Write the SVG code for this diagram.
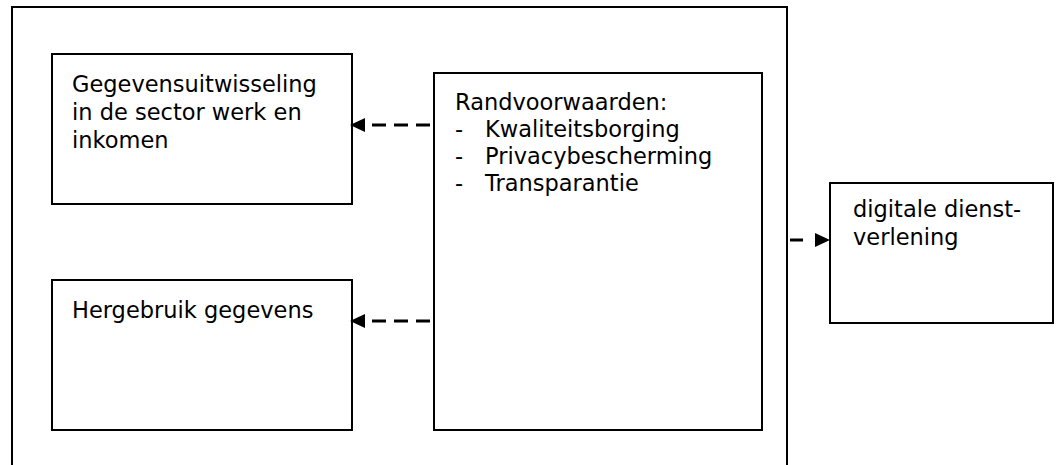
<svg xmlns="http://www.w3.org/2000/svg" width="1059" height="465" viewBox="0 0 1059 465">
<style>
.box{fill:none;stroke:#000;stroke-width:2}
.t{font-family:"DejaVu Sans",Verdana,sans-serif;font-size:22.5px;fill:#000}
.c{fill:none;stroke:#000;stroke-width:3;stroke-dasharray:14 8}
</style>
<defs>
<marker id="ah" markerUnits="userSpaceOnUse" markerWidth="16" markerHeight="16" viewBox="0 0 16 16" refX="2" refY="8" orient="auto">
<path d="M0,1 L15,8 L0,15 Z" fill="#000"/>
</marker>
</defs>
<rect width="1059" height="465" fill="#fff"/>
<g id="outer"><rect class="box" x="12" y="7" width="775" height="470"/></g>
<g id="gegevensuitwisseling">
<rect class="box" x="52" y="54" width="300" height="150"/>
<text class="t" x="72" y="92">Gegevensuitwisseling</text>
<text class="t" x="72" y="120">in de sector werk en</text>
<text class="t" x="72" y="148">inkomen</text>
</g>
<g id="hergebruik">
<rect class="box" x="52" y="280" width="300" height="150"/>
<text class="t" x="72" y="318">Hergebruik gegevens</text>
</g>
<g id="randvoorwaarden">
<rect class="box" x="434" y="73" width="328" height="357"/>
<text class="t" x="455" y="110">Randvoorwaarden:</text>
<text class="t" x="455" y="137">-</text><text class="t" x="485" y="137">Kwaliteitsborging</text>
<text class="t" x="455" y="164">-</text><text class="t" x="485" y="164">Privacybescherming</text>
<text class="t" x="455" y="191">-</text><text class="t" x="485" y="191">Transparantie</text>
</g>
<g id="digitale">
<rect class="box" x="830" y="183" width="223" height="140"/>
<text class="t" x="853" y="217">digitale dienst-</text>
<text class="t" x="853" y="245">verlening</text>
</g>
<g id="connectors">
<path class="c" d="M430,125 L363,125" marker-end="url(#ah)"/>
<path class="c" d="M430,321 L363,321" marker-end="url(#ah)"/>
<path class="c" style="stroke-dasharray:13 14" d="M790,240 L817,240" marker-end="url(#ah)"/>
</g>
</svg>
